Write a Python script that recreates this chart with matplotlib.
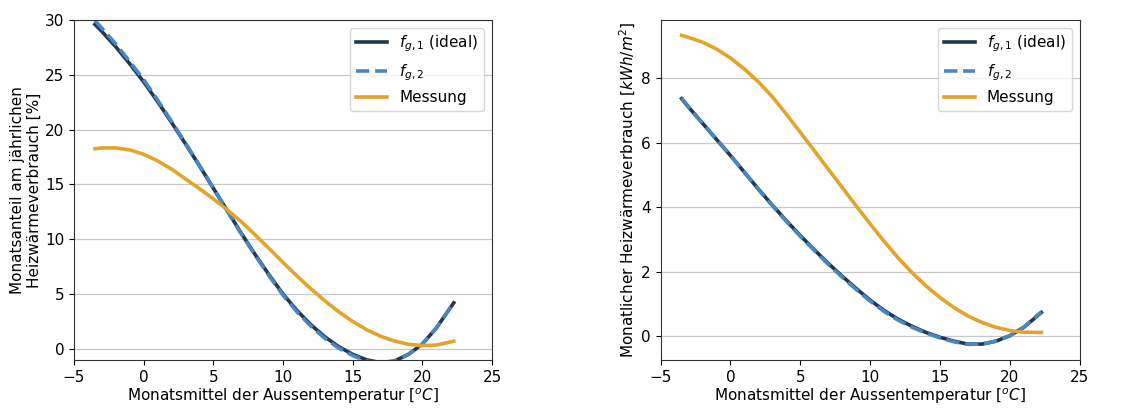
import matplotlib
matplotlib.use('Agg')
import matplotlib.pyplot as plt
import numpy as np

FNTSIZE = 11

# Monatsmittel der Aussentemperatur [°C]
temp = [-3.5, -3, -2, -1, 0, 1, 2, 3, 4, 5, 6, 7, 8, 9, 10, 11, 12, 13, 14,
        15, 16, 17, 18, 19, 20, 21, 22.25]

# left panel: Monatsanteil [%]
left_fg1 = [29.6, 28.95, 27.55, 26.0, 24.35, 22.55, 20.65, 18.7, 16.7, 14.65,
            12.6, 10.55, 8.6, 6.75, 5.0, 3.5, 2.2, 1.1, 0.2, -0.5, -1.0, -1.25,
            -1.1, -0.5, 0.45, 1.9, 4.2]
left_fg2 = [29.95, 29.25, 27.8, 26.22, 24.55, 22.7, 20.75, 18.77, 16.74, 14.65,
            12.58, 10.5, 8.53, 6.66, 4.9, 3.38, 2.07, 0.96, 0.07, -0.61, -1.1,
            -1.32, -1.13, -0.5, 0.45, 1.9, 4.22]
left_mess = [18.25, 18.33, 18.33, 18.15, 17.75, 17.15, 16.4, 15.5, 14.62, 13.68,
             12.68, 11.6, 10.4, 9.15, 7.88, 6.65, 5.48, 4.38, 3.38, 2.5, 1.75,
             1.15, 0.72, 0.42, 0.3, 0.35, 0.7]

# right panel: Monatlicher Heizwaermeverbrauch [kWh/m2]
right_fg1 = [7.36, 7.1, 6.6, 6.1, 5.6, 5.08, 4.56, 4.06, 3.58, 3.12, 2.68, 2.26,
             1.86, 1.48, 1.12, 0.8, 0.53, 0.31, 0.12, -0.03, -0.15, -0.24, -0.24,
             -0.15, 0.02, 0.28, 0.74]
right_fg2 = [7.38, 7.11, 6.6, 6.1, 5.6, 5.08, 4.55, 4.05, 3.56, 3.1, 2.66, 2.23,
             1.83, 1.45, 1.09, 0.77, 0.5, 0.28, 0.1, -0.05, -0.17, -0.25, -0.24,
             -0.15, 0.02, 0.29, 0.76]
right_mess = [9.32, 9.26, 9.11, 8.9, 8.62, 8.28, 7.88, 7.42, 6.88, 6.32, 5.75,
              5.18, 4.61, 4.04, 3.48, 2.94, 2.43, 1.97, 1.56, 1.2, 0.89, 0.63,
              0.43, 0.28, 0.18, 0.13, 0.12]

labels = ['$f_{g,1}$ (ideal)', '$f_{g,2}$', 'Messung']
colors = ['#22384f', '#4a86c0', '#e0a52a']
xlabel = 'Monatsmittel der Aussentemperatur [$^oC$]'

fig = plt.figure(figsize=(11.39, 4.08), dpi=100)
ax1 = fig.add_axes([0.065, 0.118, 0.367, 0.833])
ax2 = fig.add_axes([0.580, 0.118, 0.368, 0.833])

for ax, d1, d2, dm in [(ax1, left_fg1, left_fg2, left_mess),
                       (ax2, right_fg1, right_fg2, right_mess)]:
    ax.plot(temp, d1, color=colors[0], lw=2.6, label=labels[0])
    ax.plot(temp, d2, color=colors[1], lw=2.6, ls='--', label=labels[1])
    ax.plot(temp, dm, color=colors[2], lw=2.6, label=labels[2])
    ax.set_xlim(-5, 25)
    ax.set_xticks(np.arange(-5, 26, 5))
    ax.grid(axis='y', color='#c8c8c8', lw=0.9)
    ax.set_axisbelow(True)
    ax.tick_params(labelsize=FNTSIZE)
    for sp in ax.spines.values():
        sp.set_color('#333333')
    ax.set_xlabel(xlabel, fontsize=FNTSIZE, labelpad=1)
    ax.legend(loc='upper right', fontsize=FNTSIZE)

ax1.set_ylim(-1, 30)
ax1.set_yticks(np.arange(0, 31, 5))
ax1.set_ylabel('Monatsanteil am jährlichen\nHeizwärmeverbrauch [%]', fontsize=FNTSIZE, labelpad=2)
ax2.set_ylabel('Monatlicher Heizwärmeverbrauch [$kWh/m^2$]', fontsize=FNTSIZE, labelpad=2)

plt.savefig('out.png', dpi=100)
